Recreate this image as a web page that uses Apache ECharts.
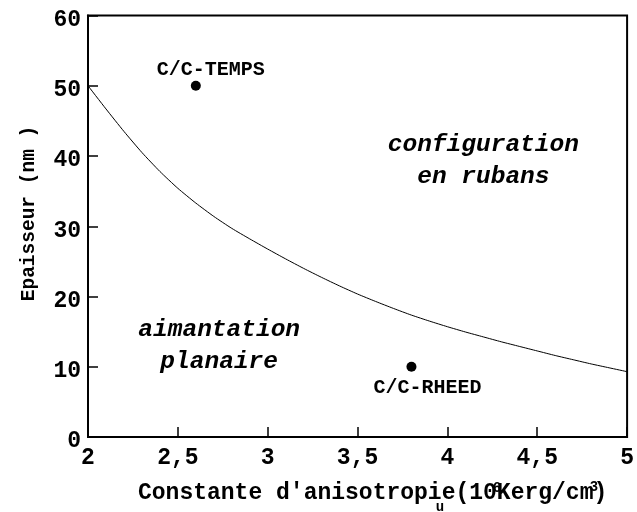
<!DOCTYPE html>
<html>
<head>
<meta charset="utf-8">
<script src="https://cdn.jsdelivr.net/npm/echarts@6/dist/echarts.min.js"></script>
<style>
  html, body { margin: 0; padding: 0; background: #fff; }
  #chart { width: 637px; height: 512px; }
</style>
</head>
<body>
<div id="chart"></div>
<script>
// Critical thickness curve separating the two magnetic configurations
var curveK = [2.0, 2.1, 2.2, 2.3, 2.4, 2.5, 2.6, 2.7, 2.8, 2.9,
              3.0, 3.1, 3.2, 3.3, 3.4, 3.5, 3.6, 3.7, 3.8, 3.9,
              4.0, 4.1, 4.2, 4.3, 4.4, 4.5, 4.6, 4.7, 4.8, 4.9, 5.0];
var curveT = [50.0, 46.7, 43.5, 40.5, 37.8, 35.4, 33.3, 31.4, 29.7, 28.2,
              26.75, 25.35, 24.0, 22.72, 21.5, 20.35, 19.3, 18.3, 17.35, 16.5,
              15.7, 14.95, 14.25, 13.55, 12.9, 12.25, 11.6, 11.0, 10.4, 9.85, 9.3];

// Measured samples
var sampleNames = ['C/C-TEMPS', 'C/C-RHEED'];
var sampleK = [2.6, 3.8];
var sampleT = [50, 10];

// Region labels (anchored in data coordinates)
var regionText = ['configuration\nen rubans', 'aimantation\nplanaire'];
var regionK = [4.2, 2.73];
var regionT = [39.3, 13.0];

// Axis ticks
var xTicks = [2, 2.5, 3, 3.5, 4, 4.5, 5];
var yTicks = [0, 10, 20, 30, 40, 50, 60];

var FONT = '"Liberation Mono", "Courier New", monospace';

var chart = echarts.init(document.getElementById('chart'), null, { renderer: 'canvas' });

var curveData = curveK.map(function (k, i) { return [k, curveT[i]]; });

// label offsets relative to each sample dot
var sampleLabelOffset = [[15, -16], [16, 21]];
var sampleData = sampleK.map(function (k, i) {
  return {
    name: sampleNames[i],
    value: [k, sampleT[i]],
    label: { offset: sampleLabelOffset[i] }
  };
});
var regionData = regionK.map(function (k, i) { return { name: regionText[i], value: [k, regionT[i]] }; });

function comma(v) { return String(v).replace('.', ','); }

chart.setOption({
  animation: false,
  backgroundColor: '#fff',
  grid: {
    left: 88, right: 7, top: 15.5, bottom: 75,
    show: true, borderColor: '#000', borderWidth: 2
  },
  xAxis: {
    type: 'value',
    min: xTicks[0], max: xTicks[xTicks.length - 1], interval: 0.5,
    axisLine: { show: true, lineStyle: { color: '#000', width: 2 } },
    axisTick: { show: true, inside: true, length: 10, lineStyle: { color: '#000', width: 1.5 } },
    splitLine: { show: false },
    axisLabel: {
      color: '#000', fontFamily: FONT, fontWeight: 'bold', fontSize: 23, margin: 10,
      formatter: comma
    }
  },
  yAxis: {
    type: 'value',
    min: yTicks[0], max: yTicks[yTicks.length - 1], interval: 10,
    axisLine: { show: true, lineStyle: { color: '#000', width: 2 } },
    axisTick: { show: true, inside: true, length: 10, lineStyle: { color: '#000', width: 1.5 } },
    splitLine: { show: false },
    axisLabel: {
      color: '#000', fontFamily: FONT, fontWeight: 'bold', fontSize: 23, margin: 7,
      formatter: function (v) { return '{d|' + comma(v) + '}'; },
      rich: {
        d: { color: '#000', fontFamily: FONT, fontWeight: 'bold', fontSize: 23, padding: [9, 0, 0, 0] }
      }
    }
  },
  series: [
    {
      type: 'line',
      data: curveData,
      smooth: 0.2,
      showSymbol: false,
      lineStyle: { color: '#000', width: 1 },
      emphasis: { disabled: true },
      z: 3
    },
    {
      type: 'scatter',
      data: sampleData,
      symbol: 'circle',
      symbolSize: 10,
      itemStyle: { color: '#000', opacity: 1 },
      emphasis: { disabled: true },
      label: {
        show: true,
        position: 'inside',
        formatter: '{b}',
        color: '#000', opacity: 1, fontFamily: FONT, fontWeight: 'bold', fontSize: 20,
        align: 'center', verticalAlign: 'middle'
      },
      z: 4
    },
    {
      type: 'scatter',
      data: regionData,
      symbolSize: 0,
      silent: true,
      itemStyle: { opacity: 1 },
      emphasis: { disabled: true },
      label: {
        show: true,
        position: 'inside',
        formatter: '{b}',
        color: '#000', opacity: 1, fontFamily: FONT, fontWeight: 'bold', fontStyle: 'italic', fontSize: 24.5,
        lineHeight: 32, align: 'center'
      },
      z: 4
    }
  ],
  graphic: [
    {
      type: 'text', left: 138, top: 482,
      style: { text: "Constante d'anisotropie(10Kerg/cm)", fill: '#000', fontFamily: FONT, fontWeight: 'bold', fontSize: 23 }
    },
    {
      type: 'text', x: 497, y: 488,
      style: { text: '6', fill: '#000', fontFamily: FONT, fontWeight: 'bold', fontSize: 14, align: 'center', verticalAlign: 'middle' }
    },
    {
      type: 'text', x: 594, y: 487,
      style: { text: '3', fill: '#000', fontFamily: FONT, fontWeight: 'bold', fontSize: 14, align: 'center', verticalAlign: 'middle' }
    },
    {
      type: 'text', x: 440, y: 507,
      style: { text: 'u', fill: '#000', fontFamily: FONT, fontWeight: 'bold', fontSize: 14, align: 'center', verticalAlign: 'middle' }
    },
    {
      type: 'text', x: 29.5, y: 213.5, rotation: Math.PI / 2,
      style: { text: 'Epaisseur (nm )', fill: '#000', fontFamily: FONT, fontWeight: 'bold', fontSize: 19.5, align: 'center', verticalAlign: 'middle' }
    }
  ]
});
</script>
</body>
</html>
